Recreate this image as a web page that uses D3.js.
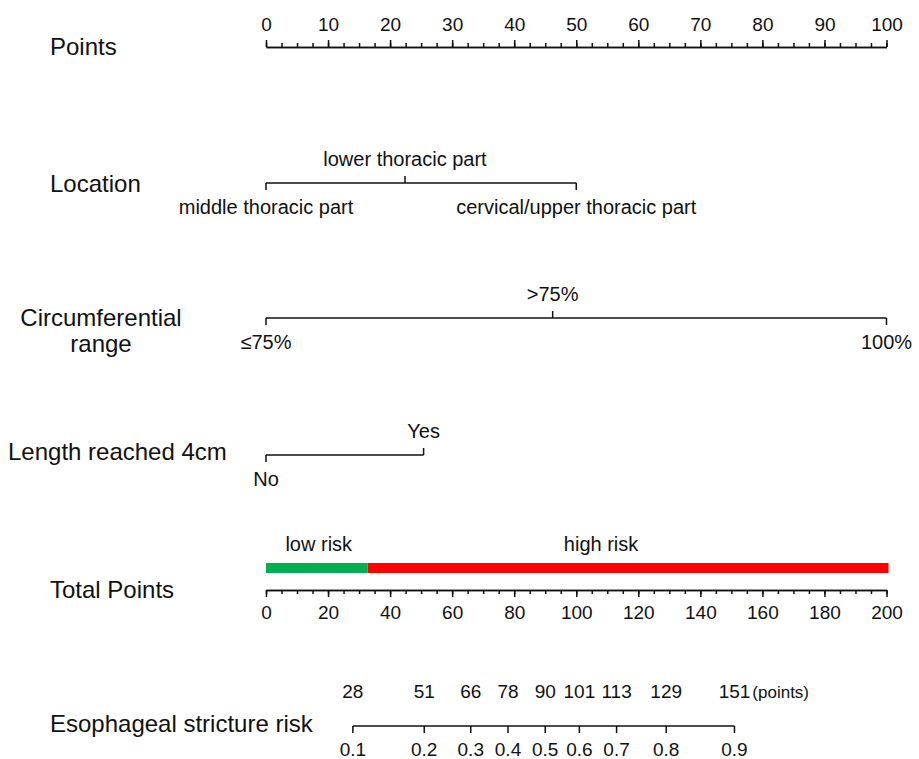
<!DOCTYPE html>
<html>
<head>
<meta charset="utf-8">
<script src="https://cdn.jsdelivr.net/npm/d3@7"></script>
<style>
  body { margin: 0; background: #fff; }
  svg text { font-family: "Liberation Sans", Arial, sans-serif; fill: #111; }
</style>
</head>
<body>
<svg id="chart" width="919" height="759"></svg>
<script>
// nomogram values
const pointsMajor = [0, 10, 20, 30, 40, 50, 60, 70, 80, 90, 100];
const pointsMinor = [0, 2.5, 5, 7.5, 10, 12.5, 15, 17.5, 20, 22.5, 25, 27.5, 30, 32.5, 35, 37.5, 40, 42.5, 45, 47.5, 50,
                     52.5, 55, 57.5, 60, 62.5, 65, 67.5, 70, 72.5, 75, 77.5, 80, 82.5, 85, 87.5, 90, 92.5, 95, 97.5, 100];

const locationLevels = ["middle thoracic part", "lower thoracic part", "cervical/upper thoracic part"];
const locationPoints = [0, 22.4, 50];
const locationSide = ["below", "above", "below"];

const circLevels = ["≤75%", ">75%", "100%"];
const circPoints = [0, 46.2, 100];
const circSide = ["below", "above", "below"];

const lengthLevels = ["No", "Yes"];
const lengthPoints = [0, 25.4];
const lengthSide = ["below", "above"];

const totalMajor = [0, 20, 40, 60, 80, 100, 120, 140, 160, 180, 200];
const totalMinor = [0, 5, 10, 15, 20, 25, 30, 35, 40, 45, 50, 55, 60, 65, 70, 75, 80, 85, 90, 95, 100,
                    105, 110, 115, 120, 125, 130, 135, 140, 145, 150, 155, 160, 165, 170, 175, 180, 185, 190, 195, 200];
const riskCutoff = 32.8;           // total points where low risk ends
const riskBands = ["low risk", "high risk"];
const riskBandLabelAt = [17, 108]; // total points under each band label

const riskValues = [0.1, 0.2, 0.3, 0.4, 0.5, 0.6, 0.7, 0.8, 0.9];
const riskTotals = [28, 51, 66, 78, 90, 101, 113, 129, 151];

const svg = d3.select("#chart");

const x0 = 266, x1 = 886.5;
const xPoints = d3.scaleLinear().domain([0, 100]).range([x0, x1]);
const xTotal = d3.scaleLinear().domain([0, 200]).range([x0, x1]);

const labelSize = 24, levelSize = 20, numSize = 19;

function rowLabel(txt, x, y) {
    svg.append("text").attr("x", x).attr("y", y)
       .style("font-size", labelSize + "px").text(txt);
}

// ---- Points axis
const pAxis = svg.append("g").attr("transform", "translate(0,47)");
pAxis.call(d3.axisTop(xPoints).tickValues(pointsMinor).tickSize(4).tickSizeOuter(0).tickFormat(""));
pAxis.append("g").call(d3.axisTop(xPoints).tickValues(pointsMajor).tickSize(7).tickSizeOuter(0).tickPadding(9));
rowLabel("Points", 50, 55);

// ---- categorical variable lines
function varLine(y, pts, levels, side) {
    const g = svg.append("g").attr("transform", `translate(0,${y})`);
    g.append("line")
     .attr("x1", xPoints(d3.min(pts))).attr("x2", xPoints(d3.max(pts)))
     .attr("stroke", "#111").attr("stroke-width", 1.5);
    g.selectAll("line.tk").data(pts).enter().append("line").attr("class", "tk")
     .attr("x1", d => xPoints(d)).attr("x2", d => xPoints(d))
     .attr("y1", 0).attr("y2", (d, i) => side[i] === "above" ? -7 : 7)
     .attr("stroke", "#111").attr("stroke-width", 1.5);
    g.selectAll("text").data(pts).enter().append("text")
     .attr("x", d => xPoints(d))
     .attr("y", (d, i) => side[i] === "above" ? -17 : 31)
     .attr("text-anchor", "middle")
     .style("font-size", levelSize + "px")
     .text((d, i) => levels[i]);
}

varLine(183, locationPoints, locationLevels, locationSide);
rowLabel("Location", 50, 192);

varLine(318, circPoints, circLevels, circSide);
svg.append("text").attr("x", 101).attr("y", 326).attr("text-anchor", "middle")
   .style("font-size", labelSize + "px").text("Circumferential");
svg.append("text").attr("x", 101).attr("y", 352).attr("text-anchor", "middle")
   .style("font-size", labelSize + "px").text("range");

varLine(455, lengthPoints, lengthLevels, lengthSide);
rowLabel("Length reached 4cm", 8, 460);

// ---- risk bands
svg.append("rect")
   .attr("x", xTotal(riskCutoff)).attr("y", 563)
   .attr("width", xTotal(200) - xTotal(riskCutoff) + 2).attr("height", 10)
   .attr("fill", "#ff0000");
svg.append("rect")
   .attr("x", xTotal(0)).attr("y", 563)
   .attr("width", xTotal(riskCutoff) - xTotal(0)).attr("height", 10)
   .attr("fill", "#00b050");
svg.selectAll("text.band").data(riskBands).enter().append("text").attr("class", "band")
   .attr("x", (d, i) => xTotal(riskBandLabelAt[i])).attr("y", 551)
   .attr("text-anchor", "middle").style("font-size", levelSize + "px")
   .text(d => d);

// ---- Total points axis
const tAxis = svg.append("g").attr("transform", "translate(0,590)");
tAxis.call(d3.axisBottom(xTotal).tickValues(totalMinor).tickSize(4).tickSizeOuter(0).tickFormat(""));
tAxis.append("g").call(d3.axisBottom(xTotal).tickValues(totalMajor).tickSize(7).tickSizeOuter(0).tickPadding(9));
rowLabel("Total Points", 50, 598);

// ---- risk scale
const rAxis = svg.append("g").attr("transform", "translate(0,726)");
rAxis.append("line")
     .attr("x1", xTotal(d3.min(riskTotals))).attr("x2", xTotal(d3.max(riskTotals)))
     .attr("stroke", "#111").attr("stroke-width", 1.5);
rAxis.selectAll("line.tk").data(riskTotals).enter().append("line").attr("class", "tk")
     .attr("x1", d => xTotal(d)).attr("x2", d => xTotal(d))
     .attr("y1", 0).attr("y2", 7)
     .attr("stroke", "#111").attr("stroke-width", 1.5);
rAxis.selectAll("text.rv").data(riskValues).enter().append("text").attr("class", "rv")
     .attr("x", (d, i) => xTotal(riskTotals[i])).attr("y", 30)
     .attr("text-anchor", "middle").style("font-size", numSize + "px")
     .text(d => d);
const ptLabels = rAxis.selectAll("text.pt").data(riskTotals).enter().append("text").attr("class", "pt")
     .attr("x", d => xTotal(d)).attr("y", -28)
     .attr("text-anchor", "middle").style("font-size", numSize + "px")
     .text(d => d);
const lastLabel = ptLabels.filter((d, i) => i === riskTotals.length - 1);
const lastW = lastLabel.node().getComputedTextLength();
rAxis.append("text")
     .attr("x", xTotal(d3.max(riskTotals)) + lastW / 2 + 2).attr("y", -28)
     .style("font-size", "17px").text("(points)");
rowLabel("Esophageal stricture risk", 50, 732);

// axis styling
svg.selectAll(".domain").attr("stroke", "#111").attr("stroke-width", 1.5);
svg.selectAll(".tick line").attr("stroke", "#111").attr("stroke-width", 1.5);
svg.selectAll(".tick text").style("font-size", numSize + "px").style("font-family", "'Liberation Sans', Arial, sans-serif").attr("fill", "#111");
</script>
</body>
</html>
